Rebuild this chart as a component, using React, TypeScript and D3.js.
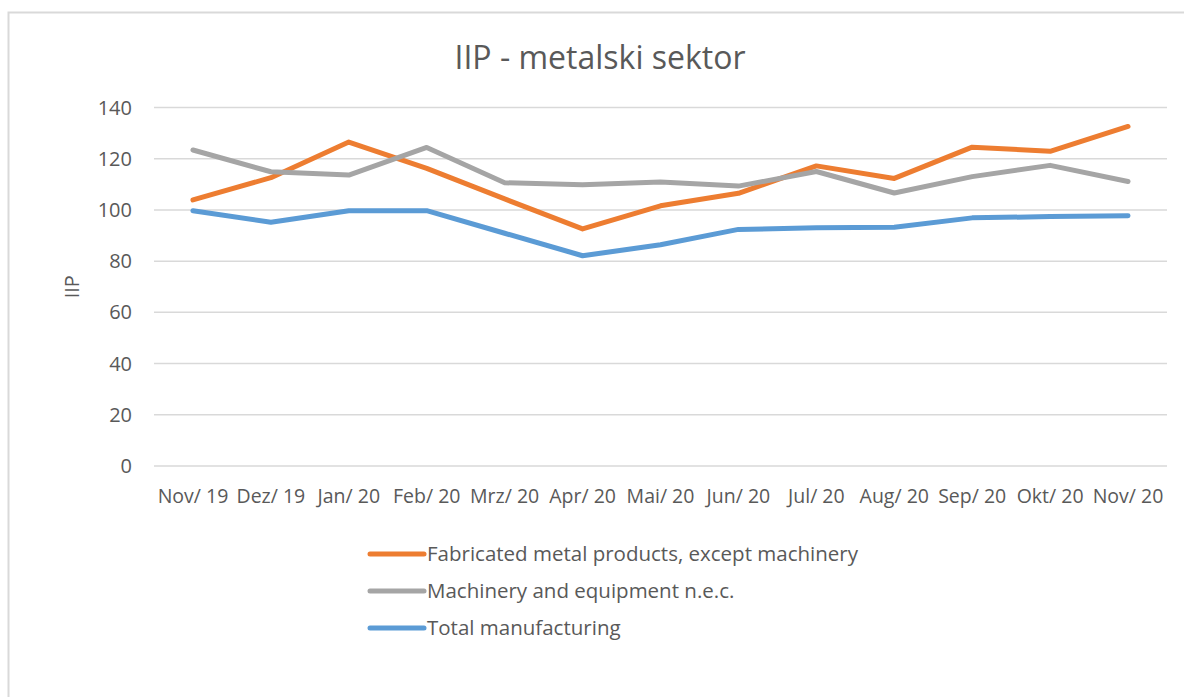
import React from "react";
import * as d3 from "d3";

const categories = ["Nov/ 19", "Dez/ 19", "Jan/ 20", "Feb/ 20", "Mrz/ 20", "Apr/ 20", "Mai/ 20", "Jun/ 20", "Jul/ 20", "Aug/ 20", "Sep/ 20", "Okt/ 20", "Nov/ 20"];
const fabricated = [103.9, 112.6, 126.5, 116.2, 104.3, 92.6, 101.6, 106.5, 117.2, 112.3, 124.5, 122.9, 132.6];
const machinery = [123.4, 114.9, 113.6, 124.4, 110.6, 109.8, 110.9, 109.3, 115.0, 106.6, 113.0, 117.4, 111.1];
const total = [99.7, 95.2, 99.7, 99.7, 90.9, 82.1, 86.4, 92.4, 93.0, 93.2, 96.9, 97.4, 97.7];
const yTicks = [0, 20, 40, 60, 80, 100, 120, 140];
const seriesNames = ["Fabricated metal products, except machinery", "Machinery and equipment n.e.c.", "Total manufacturing"];
const seriesColors = ["#ED7D31", "#A5A5A5", "#5B9BD5"];

const FONT = "'Open Sans', 'Liberation Sans', sans-serif";

export default function App() {
  const left = 154, right = 1167, top = 107.5, bottom = 466;
  const x = d3.scaleBand<string>().domain(categories).range([left, right]);
  const y = d3.scaleLinear().domain([0, 140]).range([bottom, top]);
  const line = d3
    .line<number>()
    .x((_, i) => (x(categories[i]) as number) + x.bandwidth() / 2)
    .y((d) => y(d));
  const series = [fabricated, machinery, total];

  return (
    <svg
      width={1184}
      height={697}
      style={{ position: "absolute", left: 0, top: 0, background: "#fff" }}
      fontFamily={FONT}
    >
      <rect x={8.5} y={12.5} width={1200} height={720} fill="#fff" stroke="#D9D9D9" strokeWidth={2} />
      <text x={600} y={69} textAnchor="middle" fontSize={32} fill="#595959">
        IIP - metalski sektor
      </text>
      {yTicks.map((t) => (
        <g key={t}>
          <line x1={left} x2={right} y1={y(t)} y2={y(t)} stroke="#D9D9D9" strokeWidth={1.5} />
          <text x={132} y={y(t) + 7} textAnchor="end" fontSize={20} fill="#595959">
            {t}
          </text>
        </g>
      ))}
      <text
        transform={`translate(79, ${y(70)}) rotate(-90)`}
        textAnchor="middle"
        fontSize={20}
        fill="#595959"
      >
        IIP
      </text>
      {categories.map((c) => (
        <text
          key={c}
          x={(x(c) as number) + x.bandwidth() / 2}
          y={503}
          textAnchor="middle"
          fontSize={19.5}
          fill="#595959"
        >
          {c}
        </text>
      ))}
      {series.map((s, i) => (
        <path
          key={i}
          d={line(s) as string}
          fill="none"
          stroke={seriesColors[i]}
          strokeWidth={5}
          strokeLinejoin="round"
          strokeLinecap="round"
        />
      ))}
      {seriesNames.map((n, i) => (
        <g key={n}>
          <line
            x1={370}
            x2={424}
            y1={554 + i * 37}
            y2={554 + i * 37}
            stroke={seriesColors[i]}
            strokeWidth={5}
            strokeLinecap="round"
          />
          <text x={427} y={554 + i * 37 + 7} fontSize={20.5} fill="#595959">
            {n}
          </text>
        </g>
      ))}
    </svg>
  );
}
